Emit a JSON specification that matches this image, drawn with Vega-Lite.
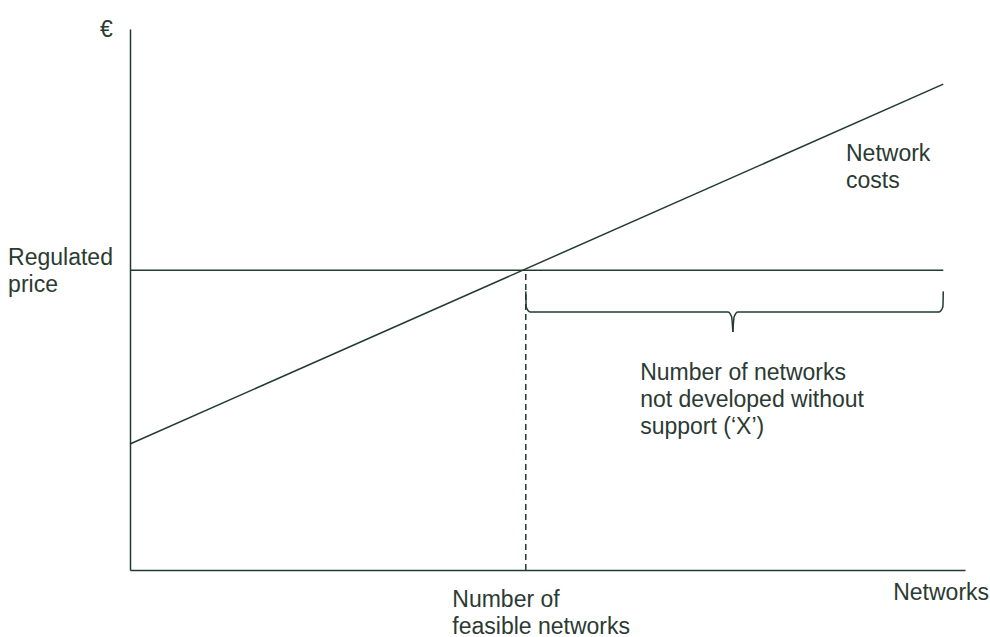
{
  "$schema": "https://vega.github.io/schema/vega-lite/v6.json",
  "width": 835,
  "height": 541,
  "autosize": {"type": "none"},
  "padding": {"left": 130, "right": 25, "top": 29, "bottom": 67},
  "background": "white",
  "config": {"view": {"stroke": null}},
  "datasets": {
    "cost": [{"x": 0, "y": 23.3}, {"x": 97.4, "y": 89.8}],
    "price": [{"x": 0, "y": 55.4, "x2": 97.4}],
    "feasible": [{"x": 47.4, "y": 0, "y2": 55.4}],
    "brace": [
      {"x": 47.4, "y": 51.5, "part": "a", "o": 1},
      {"x": 47.45, "y": 48.6, "part": "a", "o": 2},
      {"x": 47.9, "y": 47.7, "part": "a", "o": 3},
      {"x": 71.6, "y": 47.7, "part": "a", "o": 4},
      {"x": 72.05, "y": 46.8, "part": "a", "o": 5},
      {"x": 72.2, "y": 44.0, "part": "a", "o": 6},
      {"x": 72.2, "y": 44.0, "part": "b", "o": 1},
      {"x": 72.35, "y": 46.8, "part": "b", "o": 2},
      {"x": 72.8, "y": 47.7, "part": "b", "o": 3},
      {"x": 96.9, "y": 47.7, "part": "b", "o": 4},
      {"x": 97.35, "y": 48.6, "part": "b", "o": 5},
      {"x": 97.4, "y": 51.5, "part": "b", "o": 6}
    ],
    "labels": [
      {"x": -3.6, "y": 99.8, "t": "€"},
      {"x": -14.6, "y": 57.67, "t": "Regulated\nprice"},
      {"x": 85.75, "y": 76.9, "t": "Network\ncosts"},
      {"x": 61.1, "y": 36.4, "t": "Number of networks\nnot developed without\nsupport (‘X’)"},
      {"x": 38.6, "y": -5.55, "t": "Number of\nfeasible networks"},
      {"x": 91.4, "y": -4.25, "t": "Networks"}
    ]
  },
  "layer": [
    {
      "data": {"name": "cost"},
      "mark": {"type": "line", "color": "#213b2f", "strokeWidth": 1.5, "clip": false},
      "encoding": {
        "x": {"field": "x", "type": "quantitative", "scale": {"domain": [0, 100], "nice": false, "zero": false},
          "axis": {"labels": false, "ticks": false, "grid": false, "title": null, "domainColor": "#213b2f", "domainWidth": 1.5}},
        "y": {"field": "y", "type": "quantitative", "scale": {"domain": [0, 100], "nice": false, "zero": false},
          "axis": {"labels": false, "ticks": false, "grid": false, "title": null, "domainColor": "#213b2f", "domainWidth": 1.5}}
      }
    },
    {
      "data": {"name": "price"},
      "mark": {"type": "rule", "color": "#213b2f", "strokeWidth": 1.5},
      "encoding": {
        "x": {"field": "x", "type": "quantitative"},
        "x2": {"field": "x2"},
        "y": {"field": "y", "type": "quantitative"}
      }
    },
    {
      "data": {"name": "feasible"},
      "mark": {"type": "rule", "color": "#213b2f", "strokeWidth": 1.5, "strokeDash": [6, 4]},
      "encoding": {
        "x": {"field": "x", "type": "quantitative"},
        "y": {"field": "y", "type": "quantitative"},
        "y2": {"field": "y2"}
      }
    },
    {
      "data": {"name": "brace"},
      "mark": {"type": "line", "color": "#213b2f", "strokeWidth": 1.5, "interpolate": "monotone"},
      "encoding": {
        "x": {"field": "x", "type": "quantitative"},
        "y": {"field": "y", "type": "quantitative"},
        "detail": {"field": "part"},
        "order": {"field": "o"}
      }
    },
    {
      "data": {"name": "labels"},
      "mark": {"type": "text", "align": "left", "baseline": "middle", "font": "Liberation Sans", "fontSize": 23, "lineHeight": 27, "lineBreak": "\n", "color": "#2b3a32"},
      "encoding": {
        "x": {"field": "x", "type": "quantitative"},
        "y": {"field": "y", "type": "quantitative"},
        "text": {"field": "t"}
      }
    }
  ]
}
